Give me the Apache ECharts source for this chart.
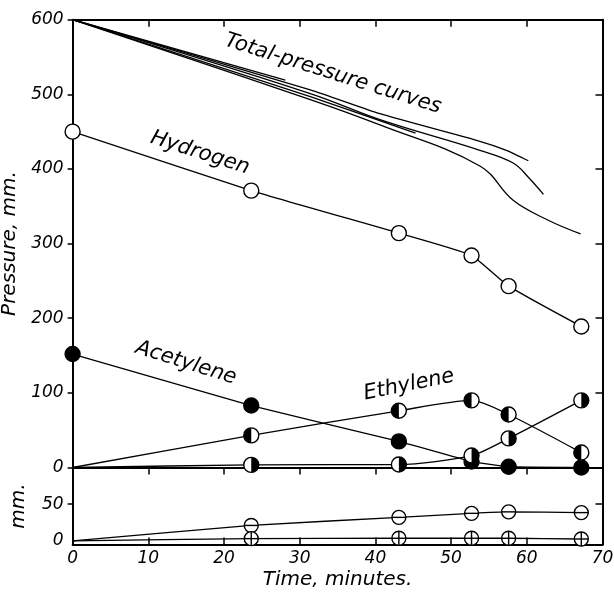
<!DOCTYPE html>
<html>
<head>
<meta charset="utf-8">
<script src="https://cdn.jsdelivr.net/npm/echarts@6/dist/echarts.min.js"></script>
<style>
html,body{margin:0;padding:0;background:#fff;}
#chart{width:614px;height:595px;}
</style>
</head>
<body>
<div id="chart"></div>
<script>
// ---- data ----
const times      = [0, 23.6, 43.1, 52.7, 57.6, 67.2];
const hydrogen   = [450, 371, 314, 284, 243, 189];
const acetylene  = [152, 83, 35, 8, 1, 0];
const ethylene   = [0, 43, 76, 90, 71, 20];
const ethane     = [0, 3.5, 4, 16, 39, 90];
const lowerMinus = [0, 21, 32, 37.5, 39.5, 38.5];
const lowerPlus  = [0, 3, 3.5, 3.5, 3.5, 2.5];

// total-pressure curves
const totalA_t = [0, 31.4, 40.6, 53.8, 57.3, 60.2];
const totalA_p = [600, 506, 474, 437, 425, 411];
const totalB_t = [0, 31.4, 40.6, 53.8, 58.2, 60.2, 62.2];
const totalB_p = [600, 501, 466, 425, 408, 389, 366];
const totalC_t = [0, 31.4, 40.6, 53.8, 58.2, 62.7, 67.1];
const totalC_p = [600, 493, 459, 404, 358, 332, 313];
const totalD_t = [0, 31.4, 45.3];
const totalD_p = [600, 497, 448];
const totalE_t = [0, 28.1];
const totalE_p = [600, 519];

const xTicks = [0, 10, 20, 30, 40, 50, 60, 70];

// ---- helpers ----
const zip = (xs, ys) => xs.map((x, i) => [x, ys[i]]);
const FONT = 'DejaVu Sans';
const BLACK = '#000';

function markerRender(kind, r) {
  return function (params, api) {
    const p = api.coord([api.value(0), api.value(1)]);
    const cx = p[0], cy = p[1];
    const ch = [];
    ch.push({type: 'circle', shape: {cx, cy, r}, style: {fill: kind === 'filled' ? BLACK : '#fff', stroke: null}});
    if (kind === 'halfL') {
      ch.push({type: 'sector', shape: {cx, cy, r0: 0, r, startAngle: Math.PI / 2, endAngle: Math.PI * 1.5, clockwise: true}, style: {fill: BLACK}});
    } else if (kind === 'halfR') {
      ch.push({type: 'sector', shape: {cx, cy, r0: 0, r, startAngle: -Math.PI / 2, endAngle: Math.PI / 2, clockwise: true}, style: {fill: BLACK}});
    }
    if (kind === 'minus' || kind === 'plus') {
      ch.push({type: 'line', shape: {x1: cx - r, y1: cy, x2: cx + r, y2: cy}, style: {stroke: BLACK, lineWidth: 1.4}});
    }
    if (kind === 'plus') {
      ch.push({type: 'line', shape: {x1: cx, y1: cy - r, x2: cx, y2: cy + r}, style: {stroke: BLACK, lineWidth: 1.4}});
    }
    ch.push({type: 'circle', shape: {cx, cy, r}, style: {fill: 'none', stroke: BLACK, lineWidth: 1.4}});
    return {type: 'group', children: ch};
  };
}

function lineSeries(data, xi, yi, smooth) {
  return {
    type: 'line', xAxisIndex: xi, yAxisIndex: yi, data: data,
    symbol: 'none', smooth: smooth,
    lineStyle: {color: BLACK, width: 1.3}, silent: true, z: 2, clip: false
  };
}
function markerSeries(data, xi, yi, kind, r) {
  return {
    type: 'custom', xAxisIndex: xi, yAxisIndex: yi, data: data,
    renderItem: markerRender(kind, r), encode: {x: 0, y: 1},
    clip: false, silent: true, z: 5
  };
}

const tickLabel = {color: BLACK, fontFamily: FONT, fontStyle: 'italic', fontSize: 17};
const axLine = {show: true, onZero: false, lineStyle: {color: BLACK, width: 2}};
const tickStyle = {color: BLACK, width: 1.5};

const chart = echarts.init(document.getElementById('chart'), null, {renderer: 'canvas'});
chart.setOption({
  animation: false,
  backgroundColor: '#fff',
  grid: [
    {left: 72.6, right: 11.5, top: 19.7, height: 447.8, containLabel: false, outerBoundsMode: 'none'},
    {left: 72.6, right: 11.5, top: 467.5, height: 77, containLabel: false, outerBoundsMode: 'none'}
  ],
  xAxis: [
    {gridIndex: 0, type: 'value', min: 0, max: 70, interval: 10, position: 'bottom',
     axisLine: axLine, axisTick: {show: true, inside: false, length: 7, lineStyle: tickStyle},
     axisLabel: {show: false}, splitLine: {show: false}},
    {gridIndex: 0, type: 'value', min: 0, max: 70, interval: 10, position: 'top',
     axisLine: axLine, axisTick: {show: true, inside: true, length: 7, lineStyle: tickStyle},
     axisLabel: {show: false}, splitLine: {show: false}},
    {gridIndex: 1, type: 'value', min: 0, max: 70, interval: 10, position: 'bottom',
     axisLine: axLine, axisTick: {show: true, inside: true, length: 7, lineStyle: tickStyle},
     axisLabel: Object.assign({margin: 6, customValues: xTicks}, tickLabel), splitLine: {show: false},
     name: 'Time, minutes.', nameLocation: 'middle', nameGap: 25,
     nameTextStyle: {color: BLACK, fontFamily: FONT, fontStyle: 'italic', fontSize: 20}}
  ],
  yAxis: [
    {gridIndex: 0, type: 'value', min: 0, max: 600, interval: 100, position: 'left',
     axisLine: axLine, axisTick: {show: true, inside: false, length: 5, lineStyle: tickStyle},
     axisLabel: Object.assign({margin: 9}, tickLabel), splitLine: {show: false},
     name: 'Pressure, mm.', nameLocation: 'middle', nameGap: 44, nameRotate: 90,
     nameTextStyle: {color: BLACK, fontFamily: FONT, fontStyle: 'italic', fontSize: 20}},
    {gridIndex: 0, type: 'value', min: 0, max: 600, interval: 100, position: 'right',
     axisLine: axLine, axisTick: {show: true, inside: true, length: 7, lineStyle: tickStyle},
     axisLabel: {show: false}, splitLine: {show: false}},
    {gridIndex: 1, type: 'value', min: -5, max: 100, position: 'left',
     axisLine: axLine, axisTick: {show: true, inside: false, length: 5, lineStyle: tickStyle, customValues: [50]},
     axisLabel: Object.assign({margin: 9, customValues: [0, 50]}, tickLabel), splitLine: {show: false},
     name: 'mm.', nameLocation: 'middle', nameGap: 44, nameRotate: 90,
     nameTextStyle: {color: BLACK, fontFamily: FONT, fontStyle: 'italic', fontSize: 20}},
    {gridIndex: 1, type: 'value', min: -5, max: 100, position: 'right',
     axisLine: axLine, axisTick: {show: true, inside: true, length: 7, lineStyle: tickStyle, customValues: [50]},
     axisLabel: {show: false}, splitLine: {show: false}}
  ],
  series: [
    lineSeries(zip(totalA_t, totalA_p), 0, 0, 0.2),
    lineSeries(zip(totalB_t, totalB_p), 0, 0, 0.4),
    lineSeries(zip(totalC_t, totalC_p), 0, 0, 0.4),
    lineSeries(zip(totalD_t, totalD_p), 0, 0, 0.1),
    lineSeries(zip(totalE_t, totalE_p), 0, 0, 0),
    lineSeries(zip(times, hydrogen), 0, 0, 0.15),
    lineSeries(zip(times, acetylene), 0, 0, 0.1),
    lineSeries(zip(times, ethylene), 0, 0, 0.25),
    lineSeries(zip(times, ethane), 0, 0, 0.25),
    lineSeries(zip(times, lowerMinus), 2, 2, 0.15),
    lineSeries(zip(times, lowerPlus), 2, 2, 0.15),
    markerSeries(zip(times, hydrogen), 0, 0, 'open', 7.5),
    markerSeries(zip(times, acetylene), 0, 0, 'filled', 7.5),
    markerSeries(zip(times, ethylene).slice(1), 0, 0, 'halfL', 7.5),
    markerSeries(zip(times, ethane).slice(1), 0, 0, 'halfR', 7.5),
    markerSeries(zip(times, lowerMinus).slice(1), 2, 2, 'minus', 7),
    markerSeries(zip(times, lowerPlus).slice(1), 2, 2, 'plus', 7)
  ],
  graphic: [
    {type: 'text', x: 333, y: 74, rotation: -17.5 * Math.PI / 180, z: 10,
     style: {text: 'Total-pressure curves', font: 'italic 21px "DejaVu Sans"', fill: BLACK, align: 'center', verticalAlign: 'middle'}},
    {type: 'text', x: 200, y: 153, rotation: -17.8 * Math.PI / 180, z: 10,
     style: {text: 'Hydrogen', font: 'italic 21px "DejaVu Sans"', fill: BLACK, align: 'center', verticalAlign: 'middle'}},
    {type: 'text', x: 186, y: 363, rotation: -17.5 * Math.PI / 180, z: 10,
     style: {text: 'Acetylene', font: 'italic 21px "DejaVu Sans"', fill: BLACK, align: 'center', verticalAlign: 'middle'}},
    {type: 'text', x: 409, y: 385, rotation: 11.5 * Math.PI / 180, z: 10,
     style: {text: 'Ethylene', font: 'italic 21px "DejaVu Sans"', fill: BLACK, align: 'center', verticalAlign: 'middle'}}
  ]
});
</script>
</body>
</html>
